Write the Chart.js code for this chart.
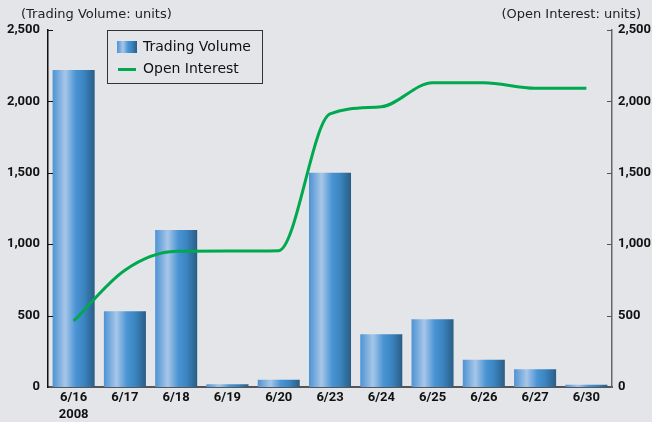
<!DOCTYPE html>
<html lang="en">
<head>
<meta charset="UTF-8">
<title>Trading Volume and Open Interest</title>
<script src="https://cdn.jsdelivr.net/npm/chart.js@4.4.0/dist/chart.umd.min.js"></script>
<style>
  body { margin: 0; background: #e3e5e8; }
  #wrap { position: relative; width: 652px; height: 422px; }
  .atitle { position: absolute; top: 6px; font: 13px "DejaVu Sans", sans-serif; color: #222; white-space: nowrap; }
  #legend { position: absolute; left: 107px; top: 30px; width: 154px; height: 52px; border: 1px solid #333;
            font: 14px "DejaVu Sans", sans-serif; color: #111; }
  #legend .row { position: absolute; left: 9px; height: 16px; line-height: 16px; }
  #legend .sw { display: inline-block; vertical-align: middle; width: 20px; margin-right: 6px; }
</style>
</head>
<body>
<div id="wrap">
  <canvas id="chart" width="652" height="422"></canvas>
  <div class="atitle" style="left:21px">(Trading Volume: units)</div>
  <div class="atitle" style="right:11px">(Open Interest: units)</div>
  <div id="legend">
    <div class="row" style="top:7px"><span class="sw" style="height:12px;background:linear-gradient(to right,#4d93d3,#a7c6e9 30%,#4a94d4 55%,#3a84c0 75%,#2a5d85)"></span>Trading Volume</div>
    <div class="row" style="top:29px"><span class="sw" style="height:3px;background:#00a84f;width:18px;margin-left:1px;margin-right:7px"></span>Open Interest</div>
  </div>
</div>
<script>
const days = [['6/16', '2008'], '6/17', '6/18', '6/19', '6/20', '6/23', '6/24', '6/25', '6/26', '6/27', '6/30'];
const tradingVolume = [2220, 530, 1100, 20, 50, 1500, 370, 475, 190, 125, 15];
const openInterest = [462, 818, 950, 952, 955, 1912, 1962, 2131, 2131, 2092, 2092];
const tickValues = [0, 500, 1000, 1500, 2000, 2500];

const BAR_PCT = 0.82;
const tickFont = { family: 'Roboto, "DejaVu Sans", sans-serif', size: 13, weight: 'bold', lineHeight: 1.3 };

// horizontal shading, one gradient per bar
function barGradient(c) {
  const chart = c.chart, area = chart.chartArea;
  if (!area || c.type !== 'data') return '#3f8fd0';
  const cx = chart.scales.x.getPixelForValue(c.dataIndex);
  const w = (area.right - area.left) / days.length * BAR_PCT;
  const g = chart.ctx.createLinearGradient(cx - w / 2, 0, cx + w / 2, 0);
  g.addColorStop(0, '#4d93d3');
  g.addColorStop(0.3, '#a7c6e9');
  g.addColorStop(0.55, '#4a94d4');
  g.addColorStop(0.75, '#3a84c0');
  g.addColorStop(1, '#2a5d85');
  return g;
}

// short tick marks pointing into the plot
const innerTicks = {
  id: 'innerTicks',
  afterDraw(chart) {
    const ctx = chart.ctx;
    ctx.save();
    ctx.lineWidth = 1;
    [['y', 1, '#111'], ['y1', -1, '#555']].forEach(([id, dir, col]) => {
      const s = chart.scales[id];
      const x = dir > 0 ? s.right : s.left;
      ctx.strokeStyle = col;
      tickValues.forEach(v => {
        if (v === 0) return;
        const y = Math.round(s.getPixelForValue(v)) + 0.5;
        ctx.beginPath();
        ctx.moveTo(x, y);
        ctx.lineTo(x + dir * 5, y);
        ctx.stroke();
      });
    });
    ctx.restore();
  }
};

new Chart(document.getElementById('chart'), {
  data: {
    labels: days,
    datasets: [
      {
        type: 'line',
        label: 'Open Interest',
        data: openInterest,
        yAxisID: 'y1',
        borderColor: '#00a84f',
        borderWidth: 3,
        pointRadius: 0,
        cubicInterpolationMode: 'monotone',
        order: 0
      },
      {
        type: 'bar',
        label: 'Trading Volume',
        data: tradingVolume,
        yAxisID: 'y',
        backgroundColor: barGradient,
        categoryPercentage: 1,
        barPercentage: BAR_PCT,
        order: 1
      }
    ]
  },
  options: {
    responsive: false,
    animation: false,
    layout: { padding: { top: 30, left: 0, right: 0, bottom: 0 } },
    plugins: { legend: { display: false }, tooltip: { enabled: false } },
    scales: {
      x: {
        grid: { display: false, drawTicks: false },
        border: { display: true, color: '#555', width: 2 },
        ticks: { color: '#111', font: tickFont, padding: 2, maxRotation: 0 },
        afterFit(s) { s.height = 35; }
      },
      y: {
        position: 'left',
        min: 0, max: 2500,
        afterBuildTicks(s) { s.ticks = tickValues.map(v => ({ value: v })); },
        grid: { display: false, drawTicks: false },
        border: { display: true, color: '#111', width: 1.5 },
        ticks: { color: '#111', font: tickFont, padding: 8, callback: v => v.toLocaleString('en-US') },
        afterFit(s) { s.width = 48; }
      },
      y1: {
        position: 'right',
        min: 0, max: 2500,
        afterBuildTicks(s) { s.ticks = tickValues.map(v => ({ value: v })); },
        grid: { display: false, drawTicks: false },
        border: { display: true, color: '#666', width: 1.5 },
        ticks: { color: '#111', font: tickFont, padding: 6, callback: v => v.toLocaleString('en-US') },
        afterFit(s) { s.width = 40; }
      }
    }
  },
  plugins: [innerTicks]
});
</script>
</body>
</html>
